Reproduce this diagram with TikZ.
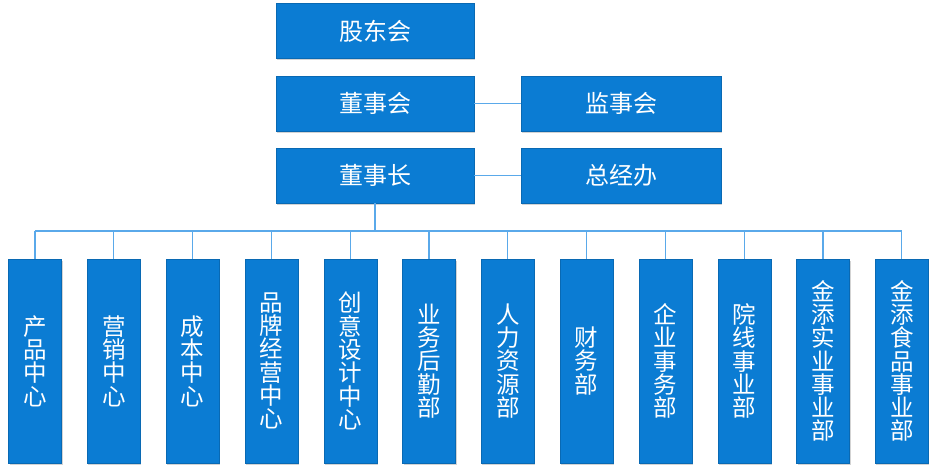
\documentclass[tikz,border=0pt]{standalone}
\usepackage{fontspec}
\setmainfont{Noto Sans CJK SC}
\usepackage{tikz}
\usetikzlibrary{shadows}

\definecolor{boxblue}{HTML}{0B7CD3}
\definecolor{lineblue}{HTML}{5AA9EA}

\tikzset{
  orgbox/.style={fill=boxblue, draw=boxblue!85!black, line width=0.4pt,
    text=white, align=center,
    inner sep=0pt, drop shadow={opacity=0.35, shadow xshift=1pt, shadow yshift=-2pt}},
  topbox/.style={orgbox, font=\fontsize{24}{26}\selectfont,
    minimum width=198pt, minimum height=55pt},
  deptbox/.style={orgbox, font=\fontsize{23.5}{23.3}\selectfont,
    minimum width=53pt, minimum height=204pt},
  link/.style={lineblue, line width=1.3pt}
}

\begin{document}
\begin{tikzpicture}[x=1pt, y=-1pt]
    \useasboundingbox (0, 0) rectangle (943, 476);
    % top levels
    \node[topbox] (holders) at (375, 31) {股东会};
    \node[topbox] (board) at (375, 103.5) {董事会};
    \node[topbox, minimum width=200pt] (super) at (621, 103.5) {监事会};
    \node[topbox] (chair) at (375, 175.5) {董事长};
    \node[topbox, minimum width=200pt] (office) at (621, 175.5) {总经办};
    \draw[link] (board.east) -- (super.west);
    \draw[link] (chair.east) -- (office.west);
    % departments
    \foreach \i/\txt in {0/产\\品\\中\\心, 1/营\\销\\中\\心, 2/成\\本\\中\\心,
        3/品\\牌\\经\\营\\中\\心, 4/创\\意\\设\\计\\中\\心, 5/业\\务\\后\\勤\\部,
        6/人\\力\\资\\源\\部, 7/财\\务\\部, 8/企\\业\\事\\务\\部,
        9/院\\线\\事\\业\\部, 10/金\\添\\实\\业\\事\\业\\部, 11/金\\添\\食\\品\\事\\业\\部}
        \node[deptbox] (d\i) at (35 + 78.8*\i, 361) {\txt};
    \coordinate (busL) at (35, 231);
    \coordinate (busR) at (902, 231);
    \draw[link] (chair.south) -- (chair.south |- busL);
    \draw[link] (busL) -- (busR);
    \foreach \i in {0,...,11}
        \draw[link] (d\i.north) -- (d\i.north |- busL);
\end{tikzpicture}
\end{document}
